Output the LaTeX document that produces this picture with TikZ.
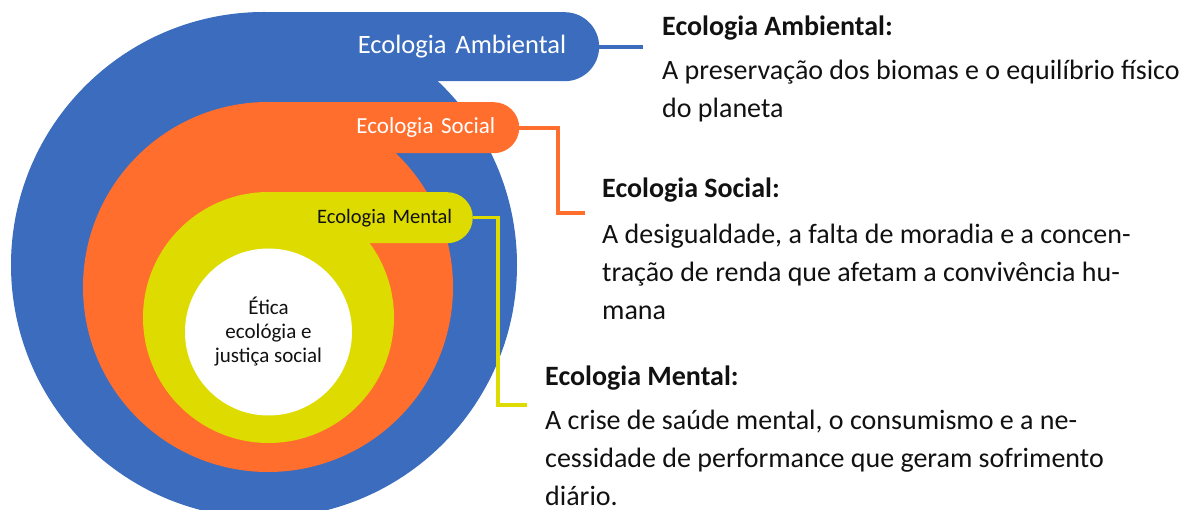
\documentclass[tikz,border=0pt]{standalone}
\usepackage{fontspec}
\setmainfont{Carlito}
\usetikzlibrary{shapes.misc,positioning}
\definecolor{ambblue}{RGB}{59,108,189}
\definecolor{socorange}{RGB}{255,110,45}
\definecolor{mentyellow}{RGB}{221,219,0}
\definecolor{ink}{RGB}{17,17,17}
\tikzset{%
  % Specifications for style of nodes:
          ring/.style = {circle, inner sep=0pt, draw=none},
           tab/.style = {rounded rectangle, rounded rectangle west arc=none,
                         anchor=north west, inner ysep=0pt, align=right},
       heading/.style = {anchor=west, inner sep=0pt, text=ink,
                         font=\fontsize{28}{38}\selectfont\bfseries},
          body/.style = {anchor=west, inner sep=0pt, align=left, text=ink,
                         font=\fontsize{28}{38}\selectfont},
          link/.style = {line width=4pt}
}
\begin{document}
\begin{tikzpicture}[x=1pt, y=-1pt]
  \useasboundingbox (0,0) rectangle (1187,510);

  \node (amb)     [ring, fill=ambblue, minimum size=506pt] at (264,265) {};
  \node (ambtab)  [tab, fill=ambblue, text=white, minimum height=69pt, text width=271pt, inner xsep=31pt,
                   font=\fontsize{26.5}{30}\selectfont] at (264,12) {\mbox{Ecologia Ambiental}};
  \node (soc)     [ring, fill=socorange, minimum size=370pt] at (268,287) {};
  \node (soctab)  [tab, fill=socorange, text=white, minimum height=51pt, text width=205pt, inner xsep=22pt,
                   font=\fontsize{23}{26}\selectfont] at (268,102) {\mbox{Ecologia Social}};
  \node (ment)    [ring, fill=mentyellow, minimum size=251pt] at (268.5,317.5) {};
  \node (menttab) [tab, fill=mentyellow, text=ink, minimum height=51pt, text width=164.5pt, inner xsep=19pt,
                   font=\fontsize{20.5}{24}\selectfont] at (268.5,192) {\mbox{Ecologia Mental}};
  \node (core)    [ring, fill=white, minimum size=167pt, align=center, text=ink,
                   font=\fontsize{21}{24}\selectfont] at (268.5,332) {Ética\\ecológia e\\justiça social};

  \coordinate (ambend)   at (643,43);
  \coordinate (socbend)  at (558,213);
  \coordinate (socend)   at (585,213);
  \coordinate (mentbend) at (498,405);
  \coordinate (mentend)  at (527,405);

  \draw[link, ambblue]                (ambtab.east) -- (ambtab.east -| ambend);
  \draw[link, socorange]              (soctab.east) -| (socbend) -- (socend);
  \draw[link, mentyellow, line width=3.5pt] (menttab.east) -| (mentbend) -- (mentend);

  \node (ambhead)  [heading] at (662,28)  {Ecologia Ambiental:};
  \node (ambtxt)   [body]    at (662,91)  {A preservação dos biomas e o equilíbrio físico\\do planeta};
  \node (sochead)  [heading] at (602,190) {Ecologia Social:};
  \node (soctxt)   [body]    at (602,271.5) {A desigualdade, a falta de moradia e a concen-\\tração de renda que afetam a convivência hu-\\mana};
  \node (menthead) [heading] at (545,378) {Ecologia Mental:};
  \node (menttxt)  [body]    at (545,458) {A crise de saúde mental, o consumismo e a ne-\\cessidade de performance que geram sofrimento\\diário.};
\end{tikzpicture}
\end{document}
